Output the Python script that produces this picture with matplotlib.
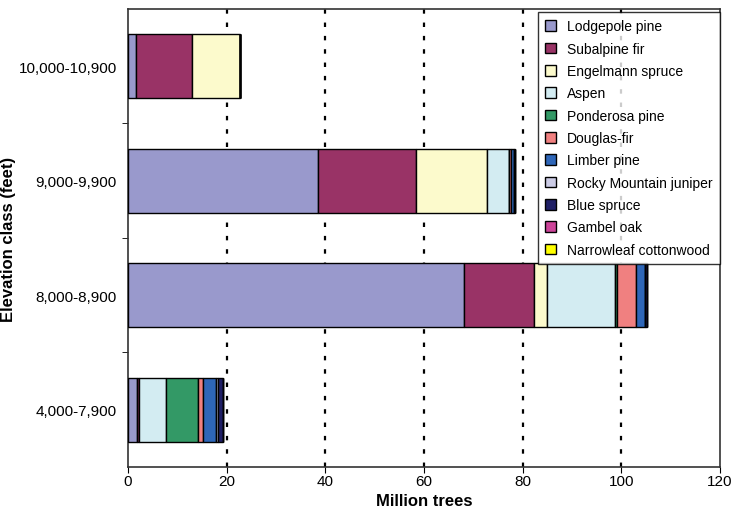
import numpy as np
import matplotlib
matplotlib.use("Agg")
import matplotlib.pyplot as plt

plt.rcParams['font.family'] = ['Liberation Sans', 'DejaVu Sans']

# elevation classes, bottom to top
classes = ['4,000-7,900', '8,000-8,900', '9,000-9,900', '10,000-10,900']

species = ['Lodgepole pine', 'Subalpine fir', 'Engelmann spruce', 'Aspen',
           'Ponderosa pine', 'Douglas-fir', 'Limber pine',
           'Rocky Mountain juniper', 'Blue spruce', 'Gambel oak',
           'Narrowleaf cottonwood']

# million trees per species, one list per species (order of classes above)
lodgepole = [1.8, 68.2, 38.5, 1.6]
subalpine = [0.4, 14.0, 19.8, 11.4]
engelmann = [0.0, 2.8, 14.4, 9.6]
aspen = [5.4, 13.7, 4.5, 0.0]
ponderosa = [6.5, 0.4, 0.0, 0.0]
douglas = [1.1, 3.9, 0.4, 0.0]
limber = [2.6, 1.8, 0.6, 0.0]
juniper = [0.5, 0.0, 0.0, 0.0]
blue_spruce = [0.9, 0.4, 0.2, 0.0]
gambel = [0.0, 0.0, 0.0, 0.0]
cottonwood = [0.0, 0.0, 0.0, 0.0]

series = [lodgepole, subalpine, engelmann, aspen, ponderosa, douglas,
          limber, juniper, blue_spruce, gambel, cottonwood]

colors = ['#9999CC', '#993366', '#FCFACC', '#D3ECF2', '#339966', '#F08080',
          '#2E66B8', '#CCCCE6', '#1F1F66', '#CC4499', '#FFFF00']

fig = plt.figure(figsize=(7.34, 5.10), dpi=100)
ax = fig.add_axes([0.1744, 0.0824, 0.8066, 0.898])

y = np.arange(len(classes))
left = np.zeros(len(classes))
for vals, name, col in zip(series, species, colors):
    ax.barh(y, vals, left=left, height=0.56, color=col, edgecolor='black',
            linewidth=1.0, label=name, zorder=3)
    left += np.array(vals)

ax.set_xlim(0, 120)
ax.set_ylim(-0.5, 3.5)
ax.set_xticks(np.arange(0, 121, 20))
ax.set_yticks(y)
ax.set_yticklabels(classes)
ax.set_yticks(np.arange(0.5, 3.5, 1.0), minor=True)
ax.tick_params(axis='y', which='major', length=0, labelsize=11, pad=8)
ax.tick_params(axis='y', which='minor', length=4, direction='out')
ax.tick_params(axis='x', labelsize=11, length=4, direction='out', pad=1)

for xv in [20, 40, 60, 80, 100]:
    ax.axvline(xv, color='black', linestyle=(0, (2, 4)), linewidth=1.6, zorder=1)

for s in ax.spines.values():
    s.set_linewidth(1.2)
    s.set_color('#333333')

ax.set_xlabel('Million trees', fontsize=12, fontweight='bold')
ax.set_ylabel('Elevation class (feet)', fontsize=12, fontweight='bold')
ax.xaxis.set_label_coords(0.5, -0.056)
ax.yaxis.set_label_coords(-0.19, 0.5)

leg = ax.legend(loc='upper right', bbox_to_anchor=(1.0, 0.994), borderaxespad=0,
                fontsize=10, frameon=True, fancybox=False, edgecolor='black',
                handlelength=0.8, handleheight=0.8, handletextpad=0.75,
                labelspacing=0.6, borderpad=0.55)
leg.get_frame().set_linewidth(1.0)
leg.set_zorder(5)

plt.savefig('out.png', dpi=100)
